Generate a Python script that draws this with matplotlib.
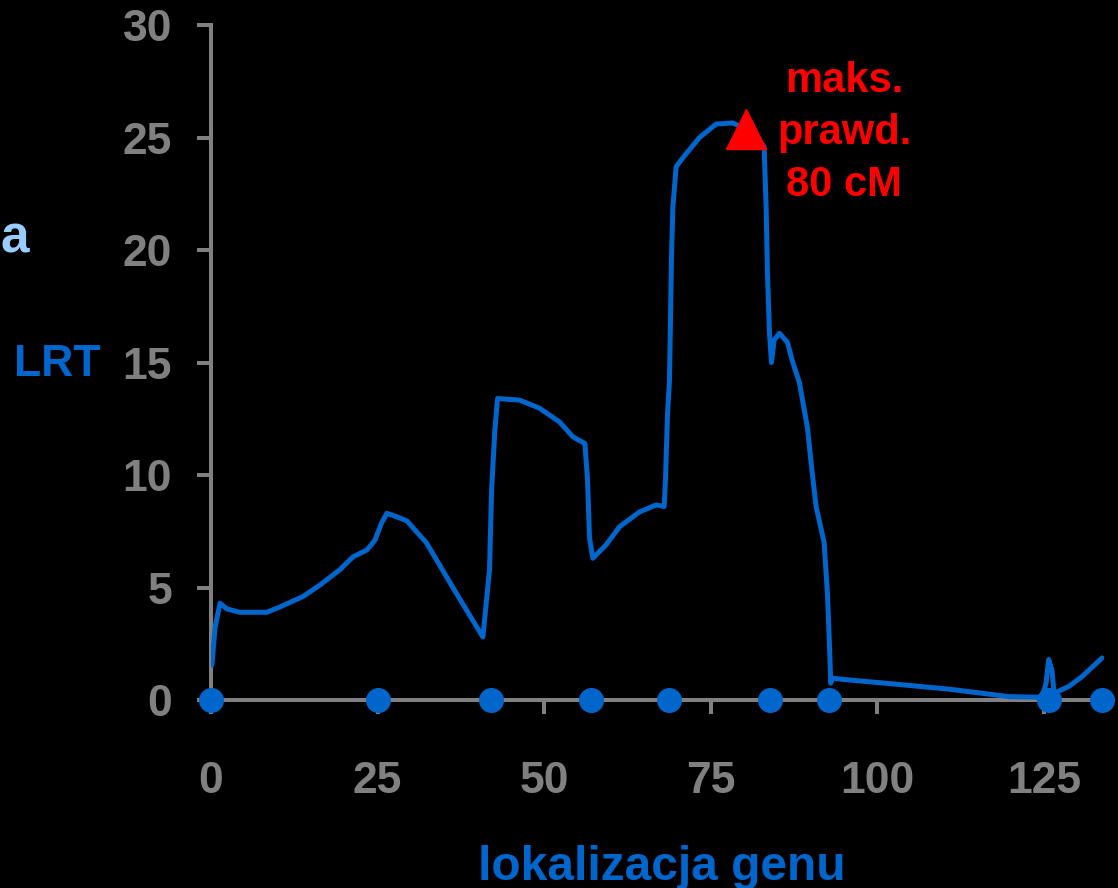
import matplotlib
matplotlib.use("Agg")
import matplotlib.pyplot as plt

# LRT profile
pos = [0.15, 0.6, 1.35, 2.4, 4.3, 8.4, 10.3, 13.8, 16.3, 19.3, 21.3, 23.4, 24.6,
       25.6, 26.4, 27.9, 29.4, 31.3, 32.3, 36.8, 40.8, 41.8, 42.1, 42.6, 43.0,
       46.3, 49.3, 52.3, 54.3, 56.1, 56.5, 56.8, 57.3, 59.3, 61.3, 64.3, 66.8,
       68.0, 68.2, 68.5, 68.8, 69.1, 69.3, 69.8, 70.8, 73.3, 75.8, 78.3, 80.8,
       83.0, 83.3, 83.5, 83.8, 84.1, 84.5, 85.3, 86.5, 87.2, 88.3, 89.5, 90.1,
       90.8, 92.0, 92.5, 92.8, 93.0, 93.2, 95.8, 100.7, 105.8, 110.8, 115.7,
       119.7, 124.7, 125.3, 125.7, 126.2, 126.5, 128.7, 130.7, 133.7]
lrt = [1.56, 3.2, 4.3, 4.05, 3.9, 3.9, 4.13, 4.6, 5.1, 5.78, 6.36, 6.67, 7.1,
       7.87, 8.3, 8.14, 7.96, 7.33, 7.0, 4.75, 2.8, 5.8, 9.3, 12.0, 13.4,
       13.33, 12.97, 12.36, 11.7, 11.4, 9.8, 7.2, 6.3, 6.9, 7.7, 8.36, 8.67,
       8.6, 9.8, 12.7, 14.2, 19.7, 21.9, 23.7, 24.1, 25.0, 25.6, 25.65, 25.3,
       24.6, 21.9, 19.0, 16.3, 15.0, 16.0, 16.3, 15.9, 15.1, 14.1, 12.1, 10.4,
       8.6, 7.0, 4.75, 2.5, 0.75, 0.97, 0.89, 0.76, 0.62, 0.48, 0.3,
       0.15, 0.12, 0.75, 1.8, 1.3, 0.3, 0.6, 1.04, 1.87]

# marker positions on the axis
markers = [0, 25, 42, 57, 68.8, 83.9, 92.8, 125.7, 133.7]

max_pos = 80.3
max_lrt = 25.4

blue = "#0066CC"
grey = "#808080"

plt.rcParams['font.family'] = ['Liberation Sans', 'DejaVu Sans']
plt.rcParams['font.weight'] = 'bold'

fig = plt.figure(figsize=(11.18, 8.88), dpi=100, facecolor='black')
ax = fig.add_axes([0.1887, 0.2117, 0.7988, 0.7601], facecolor='black')

ax.plot(pos, lrt, color=blue, lw=3.6, solid_capstyle='round', zorder=3)
ax.plot(markers, [0] * len(markers), 'o', color=blue, ms=17, clip_on=False, zorder=4)
ax.plot([max_pos], [max_lrt], '^', color='red', ms=29.5, clip_on=False, zorder=5)

ax.text(95.0, 25.2, "maks.\nprawd.\n80 cM", color='red', fontsize=30,
        fontweight='bold', ha='center', va='center', linespacing=1.4)

ax.set_xlim(0, 134)
ax.set_ylim(0, 30)
ax.set_xticks([0, 25, 50, 75, 100, 125])
ax.set_yticks([0, 5, 10, 15, 20, 25, 30])

for s in ['top', 'right']:
    ax.spines[s].set_visible(False)
for s in ['left', 'bottom']:
    ax.spines[s].set_color(grey)
    ax.spines[s].set_linewidth(2.9)

ax.tick_params(axis='both', colors=grey, length=10, width=2.9, labelsize=32)
ax.tick_params(axis='y', pad=18)
ax.tick_params(axis='x', pad=34)
for lab in ax.get_xticklabels() + ax.get_yticklabels():
    lab.set_fontweight('bold')

fig.text(0.051, 0.589, "LRT", color=blue, fontsize=32, fontweight='bold',
         ha='center', va='center')
fig.text(0.0, 0.716, "a", color="#99CCFF", fontsize=37, fontweight='bold',
         ha='left', va='baseline')
fig.text(0.592, 0.009, "lokalizacja genu", color=blue, fontsize=34.5,
         fontweight='bold', ha='center', va='baseline')

fig.savefig("out.png", dpi=100, facecolor='black')
